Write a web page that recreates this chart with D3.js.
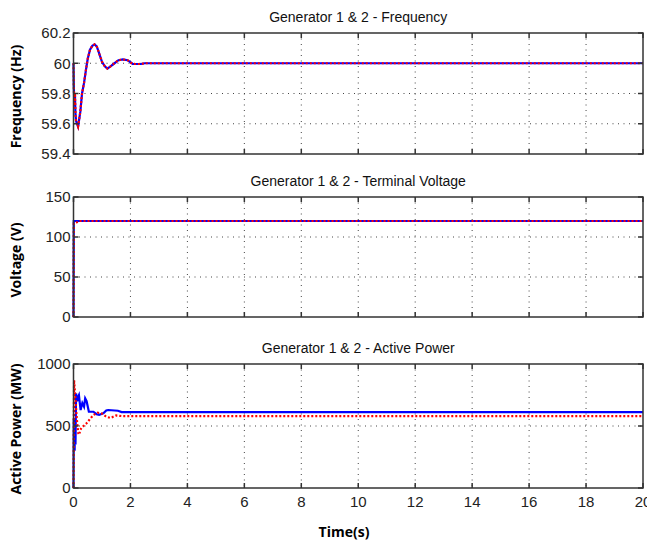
<!DOCTYPE html>
<html>
<head>
<meta charset="utf-8">
<script src="https://cdn.jsdelivr.net/npm/d3@7"></script>
<style>
  body { margin: 0; background: #fff; }
  svg { display: block; }
  .tick-label { font-family: "Liberation Sans", Arial, sans-serif; font-size: 15px; fill: #222; }
  .title { font-family: "Liberation Sans", Arial, sans-serif; font-size: 14px; fill: #111; }
  .ylab, .xlab { font-family: "Open Sans", "Noto Sans", sans-serif; font-size: 14px; font-weight: bold; fill: #000; }
</style>
</head>
<body>
<svg id="vis_svg" width="647" height="543"></svg>
<script>
// time axis
let timeTicks = [0, 2, 4, 6, 8, 10, 12, 14, 16, 18, 20];

// frequency (both generators nearly identical)
let freqTime = [0, 0.01, 0.03, 0.05, 0.07, 0.09, 0.12, 0.16, 0.2, 0.24, 0.3, 0.37, 0.44, 0.5, 0.58, 0.66, 0.74, 0.82, 0.91, 1.0, 1.1, 1.19, 1.3, 1.44, 1.58, 1.73, 1.9, 2.08, 2.37, 2.5, 20];
let freqGen1 = [60.0, 59.85, 59.72, 59.8, 59.66, 59.62, 59.6, 59.58, 59.63, 59.68, 59.8, 59.87, 59.96, 60.03, 60.09, 60.115, 60.125, 60.11, 60.06, 60.01, 59.98, 59.965, 59.98, 60.0, 60.02, 60.025, 60.02, 59.995, 59.995, 60.0, 60.0];
let freqGen2 = freqGen1.slice();

// terminal voltage
let voltTime1 = [0, 0.01, 20];
let voltGen1 = [0, 120, 120];
let voltTime2 = [0, 0.01, 0.05, 0.1, 0.15, 0.2, 20];
let voltGen2 = [0, 117, 117, 118, 119, 120, 120];

// active power
let powTime1 = [0, 0.01, 0.02, 0.03, 0.04, 0.05, 0.07, 0.09, 0.13, 0.17, 0.19, 0.25, 0.31, 0.37, 0.41, 0.46, 0.54, 0.7, 0.81, 0.9, 1.05, 1.15, 1.22, 1.56, 1.69, 20];
let powGen1 = [0, 560, 320, 550, 300, 520, 350, 763, 700, 740, 750, 629, 685, 656, 723, 700, 615, 615, 595, 590, 602, 625, 629, 623, 612, 612];
let powTime2 = [0, 0.02, 0.05, 0.08, 0.11, 0.14, 0.17, 0.2, 0.24, 0.3, 0.35, 0.45, 0.55, 0.7, 0.85, 1.0, 1.15, 1.3, 1.5, 1.7, 20];
let powGen2 = [0, 870, 780, 680, 575, 500, 440, 430, 470, 490, 500, 520, 548, 589, 607, 600, 575, 565, 585, 580, 580];

let svg = d3.select('svg#vis_svg');
let left = 73.5, right = 643;

let x = d3.scaleLinear().domain([0, 20]).range([left, right]);

let panels = [
  {title: 'Generator 1 & 2 - Frequency', ylabel: 'Frequency (Hz)', top: 33, bottom: 154,
   domain: [59.4, 60.2], ticks: [59.4, 59.6, 59.8, 60, 60.2], fmt: d => String(+d.toFixed(1)),
   series: [[freqTime, freqGen1], [freqTime, freqGen2]]},
  {title: 'Generator 1 & 2 - Terminal Voltage', ylabel: 'Voltage (V)', top: 197, bottom: 317,
   domain: [0, 150], ticks: [0, 50, 100, 150], fmt: d => String(d),
   series: [[voltTime1, voltGen1], [voltTime2, voltGen2]]},
  {title: 'Generator 1 & 2 - Active Power', ylabel: 'Active Power (MW)', top: 364, bottom: 488,
   domain: [0, 1000], ticks: [0, 500, 1000], fmt: d => String(d),
   series: [[powTime1, powGen1], [powTime2, powGen2]]}
];

panels.forEach(function(p, i) {
  let y = d3.scaleLinear().domain(p.domain).range([p.bottom, p.top]);
  let g = svg.append('g');

  // grid
  timeTicks.slice(1, -1).forEach(function(t) {
    g.append('line')
      .attr('x1', x(t)).attr('x2', x(t))
      .attr('y1', p.top).attr('y2', p.bottom)
      .attr('stroke', '#444').attr('stroke-width', 1)
      .attr('stroke-dasharray', '1,4.5');
  });
  p.ticks.slice(1, -1).forEach(function(v) {
    g.append('line')
      .attr('x1', left).attr('x2', right)
      .attr('y1', y(v)).attr('y2', y(v))
      .attr('stroke', '#444').attr('stroke-width', 1)
      .attr('stroke-dasharray', '1,4.5');
  });

  // lines
  let line = d3.line().x(d => x(d[0])).y(d => y(d[1]));
  let s1 = d3.zip(p.series[0][0], p.series[0][1]);
  let s2 = d3.zip(p.series[1][0], p.series[1][1]);
  g.append('path').attr('d', line(s1))
    .attr('fill', 'none').attr('stroke', '#0000ff').attr('stroke-width', 2.2);
  g.append('path').attr('d', line(s2))
    .attr('fill', 'none').attr('stroke', '#ff0000').attr('stroke-width', 2.2)
    .attr('stroke-dasharray', '2,2');

  // frame
  g.append('rect')
    .attr('x', left).attr('y', p.top)
    .attr('width', right - left).attr('height', p.bottom - p.top)
    .attr('fill', 'none').attr('stroke', '#333').attr('stroke-width', 1.5);

  // inward ticks
  timeTicks.forEach(function(t) {
    g.append('line').attr('x1', x(t)).attr('x2', x(t))
      .attr('y1', p.bottom).attr('y2', p.bottom - 5).attr('stroke', '#333').attr('stroke-width', 1.5);
    g.append('line').attr('x1', x(t)).attr('x2', x(t))
      .attr('y1', p.top).attr('y2', p.top + 5).attr('stroke', '#333').attr('stroke-width', 1.5);
  });
  p.ticks.forEach(function(v) {
    g.append('line').attr('x1', left).attr('x2', left + 5)
      .attr('y1', y(v)).attr('y2', y(v)).attr('stroke', '#333').attr('stroke-width', 1.5);
    g.append('line').attr('x1', right).attr('x2', right - 5)
      .attr('y1', y(v)).attr('y2', y(v)).attr('stroke', '#333').attr('stroke-width', 1.5);
    g.append('text').attr('class', 'tick-label')
      .attr('x', left - 3).attr('y', y(v)).attr('dy', '0.36em')
      .attr('text-anchor', 'end').text(p.fmt(v));
  });

  g.append('text').attr('class', 'title')
    .attr('x', (left + right) / 2).attr('y', p.top - 11)
    .attr('text-anchor', 'middle').text(p.title);

  g.append('text').attr('class', 'ylab')
    .attr('transform', 'translate(21,' + ((p.top + p.bottom) / 2 + 3) + ') rotate(-90)')
    .attr('text-anchor', 'middle').text(p.ylabel);

  if (i === 2) {
    timeTicks.forEach(function(t) {
      g.append('text').attr('class', 'tick-label')
        .attr('x', x(t)).attr('y', p.bottom + 19)
        .attr('text-anchor', 'middle').text(t);
    });
  }
});

svg.append('text').attr('class', 'xlab')
  .attr('x', 344).attr('y', 537)
  .attr('text-anchor', 'middle').text('Time(s)');
</script>
</body>
</html>
